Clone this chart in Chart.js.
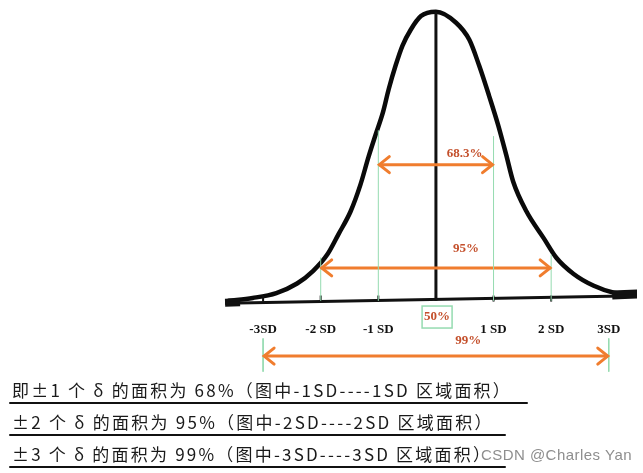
<!DOCTYPE html>
<html>
<head>
<meta charset="utf-8">
<script src="https://cdn.jsdelivr.net/npm/chart.js@4/dist/chart.umd.min.js"></script>
<style>
  html, body { margin: 0; padding: 0; background: #fff; }
  canvas { display: block; }
</style>
</head>
<body>
<canvas id="bell" width="643" height="473"></canvas>
<script>
// values: x in SD units, y as height relative to the peak
const curveSD = [-3.60, -3.18, -2.77, -2.41, -2.13, -1.88, -1.69, -1.48, -1.31, -1.17, -1.05, -0.92, -0.82, -0.70, -0.58, -0.44, -0.26, 0,
  0.35, 0.58, 0.75, 0.92, 1.08, 1.22, 1.34, 1.57, 1.87, 2.09, 2.39, 2.74, 3.09, 3.50];
const curveHeight = [0.000, 0.010, 0.027, 0.060, 0.104, 0.162, 0.231, 0.310, 0.402, 0.498, 0.573, 0.652, 0.732, 0.814, 0.883, 0.937, 0.985, 1.0,
  0.962, 0.903, 0.814, 0.711, 0.608, 0.505, 0.413, 0.310, 0.217, 0.149, 0.093, 0.052, 0.028, 0.021];
const sdTicks = [-3, -2, -1, 1, 2, 3];
const sdLabels = ['-3SD', '-2 SD', '-1 SD', '1 SD', '2 SD', '3SD'];
const guideSD = [-2, -1, 1, 2];
const guideTop = [0.15, 0.59, 0.57, 0.16];
const bandSD = [1, 2, 3];
const bandLabels = ['68.3%', '95%', '99%'];
const centerLabel = '50%';
const noteLines = [
  '即±1 个 δ 的面积为 68%（图中-1SD----1SD 区域面积）',
  '±2 个 δ 的面积为 95%（图中-2SD----2SD 区域面积）',
  '±3 个 δ 的面积为 99%（图中-3SD----3SD 区域面积）'
];
const watermark = 'CSDN @Charles Yan';

// placement of the drawn decorations (in chart units)
const bandArrowY = [0.471, 0.114, -0.191];
const bandLabelPos = [[0.50, 0.508], [0.52, 0.179], [0.56, -0.137]];
const centerLabelPos = [0.02, -0.056];
const sdLabelY = -0.10;

const ORANGE = '#f07d2e';
const LABEL_RED = '#c4502c';
const GREEN = '#95dbb0';

const pts = (xs, ys) => xs.map((x, i) => ({ x, y: ys[i] }));

const datasets = [];

// green guide lines from the baseline up to the curve
guideSD.forEach((sd, i) => {
  datasets.push({ data: [{ x: sd, y: 0 }, { x: sd, y: guideTop[i] }], borderColor: GREEN, borderWidth: 1, showLine: true, pointRadius: 0 });
});
// green guides below the axis at +-3 SD
[-3, 3].forEach((sd) => {
  datasets.push({ data: [{ x: sd, y: -0.13 }, { x: sd, y: -0.245 }], borderColor: GREEN, borderWidth: 1, showLine: true, pointRadius: 0 });
});

// orange double arrows
bandSD.forEach((k, i) => {
  datasets.push({ data: [{ x: -k, y: bandArrowY[i] }, { x: k, y: bandArrowY[i] }], borderColor: ORANGE, borderWidth: 3, showLine: true, pointRadius: 0 });
});

// baseline and its thick scanned ends
datasets.push({ data: [{ x: -3.66, y: -0.008 }, { x: 3.57, y: 0.018 }], borderColor: '#111', borderWidth: 3, showLine: true, pointRadius: 0 });
datasets.push({ data: [{ x: -3.66, y: -0.007 }, { x: -3.40, y: -0.005 }], borderColor: '#111', borderWidth: 8, showLine: true, pointRadius: 0 });
datasets.push({ data: [{ x: 3.06, y: 0.020 }, { x: 3.58, y: 0.024 }], borderColor: '#111', borderWidth: 9, showLine: true, pointRadius: 0 });

// tick marks on the baseline
datasets.push({
  data: sdTicks.slice(0, 5).map((sd) => ({ x: sd, y: 0.008 })),
  showLine: false, pointStyle: 'line', rotation: 90, pointRadius: 3, borderWidth: 2, borderColor: '#111'
});

// centre line
datasets.push({ data: [{ x: 0, y: 0 }, { x: 0, y: 1.0 }], borderColor: '#111', borderWidth: 3, showLine: true, pointRadius: 0 });

// the bell curve
datasets.push({
  data: pts(curveSD, curveHeight), borderColor: '#0a0a0a', borderWidth: 4.5, showLine: true,
  pointRadius: 0, cubicInterpolationMode: 'monotone', borderCapStyle: 'round', borderJoinStyle: 'round'
});

function fitText(ctx, text, x, y, width) {
  ctx.letterSpacing = '0px';
  const w0 = ctx.measureText(text).width;
  const n = [...text].length;
  const sp = (width - w0) / n;
  ctx.letterSpacing = sp.toFixed(2) + 'px';
  ctx.fillText(text, x, y);
  ctx.letterSpacing = '0px';
}

const annotate = {
  id: 'annotate',
  afterDatasetsDraw(chart) {
    const { ctx, scales: { x, y } } = chart;
    ctx.save();

    // arrow heads
    ctx.strokeStyle = ORANGE;
    ctx.lineWidth = 3;
    ctx.lineCap = 'round';
    ctx.lineJoin = 'miter';
    bandSD.forEach((k, i) => {
      const py = y.getPixelForValue(bandArrowY[i]);
      [-1, 1].forEach((dir) => {
        const px = x.getPixelForValue(dir * k);
        ctx.beginPath();
        ctx.moveTo(px - dir * 11, py - 8);
        ctx.lineTo(px - dir * 1, py);
        ctx.lineTo(px - dir * 11, py + 8);
        ctx.stroke();
      });
    });

    // percentage labels
    ctx.font = 'bold 13px "Liberation Serif", serif';
    ctx.textAlign = 'center';
    ctx.textBaseline = 'middle';
    ctx.fillStyle = LABEL_RED;
    bandLabels.forEach((t, i) => {
      ctx.fillText(t, x.getPixelForValue(bandLabelPos[i][0]), y.getPixelForValue(bandLabelPos[i][1]));
    });
    const cx = x.getPixelForValue(centerLabelPos[0]);
    const cy = y.getPixelForValue(centerLabelPos[1]);
    ctx.fillText(centerLabel, cx, cy);
    ctx.strokeStyle = GREEN;
    ctx.lineWidth = 1.5;
    ctx.strokeRect(cx - 15, cy - 11, 30, 22);

    // SD labels
    ctx.fillStyle = '#111';
    sdTicks.forEach((sd, i) => {
      ctx.fillText(sdLabels[i], x.getPixelForValue(sd), y.getPixelForValue(sdLabelY));
    });

    // notes below the chart
    ctx.textAlign = 'left';
    ctx.font = '17px "Noto Sans CJK SC", sans-serif';
    ctx.fillStyle = '#1a1a1a';
    const noteY = [391, 423, 455];
    const noteW = [500, 482, 480];
    const lineEnd = [527, 505, 505];
    noteLines.forEach((t, i) => {
      fitText(ctx, t, 12, noteY[i], noteW[i]);
      ctx.strokeStyle = '#111';
      ctx.lineWidth = 2;
      ctx.beginPath();
      ctx.moveTo(10, noteY[i] + 12);
      ctx.lineTo(lineEnd[i], noteY[i] + 12);
      ctx.stroke();
    });

    ctx.font = '15px "Liberation Sans", sans-serif';
    ctx.fillStyle = '#8e8e8e';
    fitText(ctx, watermark, 481, 456, 151);

    ctx.restore();
  }
};

new Chart(document.getElementById('bell'), {
  type: 'scatter',
  data: { datasets },
  options: {
    responsive: false,
    devicePixelRatio: 1,
    animation: false,
    layout: { padding: { left: 217, right: 2, top: 3, bottom: 97 } },
    scales: {
      x: { type: 'linear', min: -3.8, max: 3.49, display: false },
      y: { type: 'linear', min: -0.26, max: 1.02, display: false }
    },
    plugins: { legend: { display: false }, tooltip: { enabled: false } }
  },
  plugins: [annotate]
});
</script>
</body>
</html>
